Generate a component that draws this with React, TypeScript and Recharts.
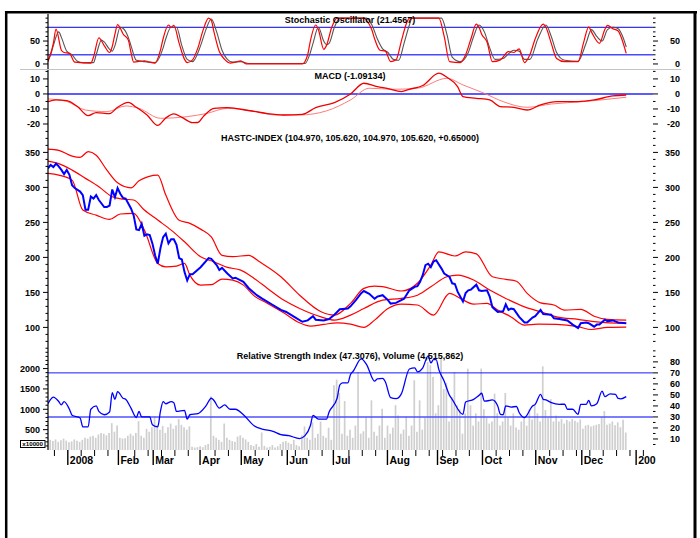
import React from 'react';
import { ComposedChart, Line, Bar, XAxis, YAxis, ReferenceLine } from 'recharts';

type Pair = [number, number];

const FONT = '"Liberation Sans", Arial, Helvetica, sans-serif';
const LAST_DAY = 216;
const X_MAX = 226;

// [trading day, value]
const stochK: Pair[] = [
  [0, 5], [2, 45], [3, 76], [5, 30], [6, 25], [8, 23], [10, 4], [16, 2], [17, 15], [19, 57], [21, 40], [23, 25],
  [24, 38], [25, 65], [26, 86], [27, 78], [28, 66], [30, 52], [31, 25], [32, 4], [36, 7], [38, 4], [40, 2], [42, 30],
  [43, 55], [45, 85], [46, 80], [47, 84], [49, 45], [51, 10], [52, 3], [54, 9], [56, 35], [58, 75], [60, 100], [61, 95],
  [62, 70], [64, 27], [66, 10], [68, 2], [70, 4], [72, 7], [74, 0], [95, 0], [97, 20], [98, 50], [100, 85], [101, 75],
  [103, 32], [104, 40], [106, 80], [108, 100], [118, 100], [119, 95], [121, 74], [122, 55], [124, 30], [126, 28],
  [128, 5], [130, 9], [132, 50], [134, 90], [135, 100], [146, 100], [148, 60], [150, 5], [154, 3], [156, 20], [158, 55],
  [160, 87], [161, 80], [162, 65], [164, 48], [166, 5], [169, 9], [172, 27], [174, 25], [176, 33], [178, 3], [180, 20],
  [182, 55], [185, 87], [186, 80], [188, 45], [190, 12], [193, 5], [198, 5], [200, 45], [202, 81], [203, 70], [206, 45],
  [208, 75], [209, 84], [211, 77], [213, 72], [214, 60], [216, 23],
];

const stochD: Pair[] = [
  [0, 8], [1, 20], [2, 40], [4, 70], [5, 58], [7, 28], [9, 20], [11, 6], [13, 3], [17, 3], [18, 20], [20, 52], [21, 48],
  [23, 32], [24, 28], [25, 40], [27, 80], [28, 78], [30, 58], [31, 40], [33, 8], [36, 5], [40, 3], [43, 35], [44, 55],
  [46, 80], [48, 80], [50, 40], [52, 10], [54, 5], [57, 40], [59, 75], [61, 98], [63, 70], [65, 30], [67, 10], [69, 4],
  [72, 5], [75, 1], [96, 1], [98, 25], [99, 45], [101, 80], [103, 50], [104, 42], [105, 45], [107, 80], [109, 100],
  [119, 100], [121, 85], [123, 55], [125, 33], [127, 25], [129, 10], [131, 8], [133, 45], [135, 85], [136, 100],
  [147, 100], [149, 65], [151, 15], [154, 5], [157, 25], [159, 60], [161, 85], [163, 70], [165, 35], [167, 10],
  [170, 12], [172, 22], [174, 30], [176, 28], [178, 10], [180, 10], [183, 55], [186, 85], [188, 60], [190, 25],
  [193, 8], [198, 6], [201, 45], [203, 75], [205, 60], [207, 50], [209, 75], [211, 80], [213, 77], [215, 55], [216, 37],
];

const macdLine: Pair[] = [
  [0, -5.1], [3, -4], [7, -4.4], [11, -8.4], [15, -14.4], [18, -12.4], [23, -13.1], [26, -8.9], [30, -5.6], [33, -8.9],
  [37, -14], [41, -20.9], [44, -16], [47, -13.3], [50, -15.6], [54, -19.1], [56, -19], [58, -15.1], [62, -9.6],
  [67, -9.1], [72, -10.2], [77, -11.6], [82, -13.1], [88, -14], [95, -13.6], [100, -9.1], [107, -5.8], [113, 0],
  [118, 7.1], [123, 4.9], [127, 3.6], [132, 1.6], [135, 3.1], [140, 5.6], [146, 13.8], [149, 11.1], [153, 4.9],
  [155, -1.8], [160, -2.9], [165, -4], [169, -8.4], [174, -8.9], [179, -10.7], [184, -7.3], [190, -5.1], [198, -5.1],
  [204, -4], [211, -1.3], [216, -0.7],
];

const macdSignal: Pair[] = [
  [0, -3.3], [7, -5], [14, -10.7], [22, -11.8], [29, -8], [34, -9.6], [42, -16.2], [52, -15.1], [59, -13.1], [67, -9.6],
  [77, -11.6], [85, -14], [94, -14], [104, -11.3], [113, -4], [120, 3.8], [129, 3.1], [138, 3.8], [149, 10.4], [155, 6],
  [163, 0.4], [170, -5.1], [179, -8.9], [188, -6.7], [200, -5.1], [216, -2.2],
];

const hastcClose: Pair[] = [
  [0, 327], [1, 332], [2, 329], [3, 334], [4, 330], [5, 325], [6, 319], [7, 325], [8, 318], [9, 303], [10, 299],
  [12, 294], [13, 289], [14, 268], [15, 268], [16, 287], [17, 284], [18, 289], [19, 282], [21, 272], [22, 272],
  [23, 274], [24, 297], [25, 286], [26, 299], [27, 291], [28, 285], [29, 284], [31, 270], [32, 260], [33, 240],
  [34, 239], [35, 248], [36, 231], [37, 233], [38, 232], [39, 220], [40, 203], [41, 191], [42, 213], [43, 229],
  [44, 234], [45, 220], [46, 226], [47, 226], [48, 218], [49, 199], [50, 197], [51, 179], [52, 167], [53, 176],
  [54, 176], [57, 186], [60, 199], [61, 198], [63, 189], [64, 182], [65, 185], [67, 177], [69, 170], [70, 171],
  [73, 165], [75, 156], [78, 146], [80, 141], [84, 132], [87, 125], [89, 122], [92, 115], [95, 108], [97, 110],
  [99, 116], [100, 111], [103, 110], [105, 112], [107, 118], [109, 126], [112, 127], [113, 130], [115, 139],
  [117, 149], [118, 152], [120, 148], [122, 141], [123, 144], [125, 146], [127, 139], [128, 134], [130, 135],
  [133, 141], [135, 153], [137, 158], [138, 159], [139, 165], [140, 175], [141, 189], [142, 191], [143, 186],
  [144, 194], [145, 196], [147, 184], [148, 177], [150, 172], [151, 163], [152, 162], [153, 151], [155, 137],
  [156, 149], [157, 153], [158, 154], [160, 161], [161, 153], [162, 152], [164, 153], [165, 144], [166, 129],
  [168, 122], [170, 123], [171, 133], [172, 125], [173, 127], [174, 126], [176, 115], [178, 107], [179, 107],
  [181, 114], [182, 116], [184, 125], [185, 119], [188, 118], [189, 113], [191, 112], [194, 110], [196, 104],
  [198, 99], [199, 106], [201, 107], [202, 106], [204, 101], [205, 104], [206, 104], [208, 111], [209, 109],
  [211, 110], [213, 107], [216, 106],
];

const bbUpper: Pair[] = [
  [0, 354.6], [4, 353], [9, 344.7], [12, 343], [15, 351], [18, 346], [22, 324.7], [26, 306.6], [31, 299.4],
  [34, 309.4], [41, 317.6], [44, 289], [49, 253], [53, 248.6], [57, 240.4], [61, 229.4], [65, 203], [69, 201],
  [75, 203], [79, 193.7], [87, 172.3], [94, 146], [102, 122.3], [107, 117.6], [113, 134.3], [118, 155.7], [122, 159],
  [125, 158.3], [132, 152], [138, 163], [143, 189], [146, 208], [152, 202], [156, 208], [160, 205], [166, 172.3],
  [171, 168.6], [175, 166], [179, 148.6], [184, 135], [189, 132], [193, 124.7], [199, 125.7], [204, 116],
  [209, 111.4], [216, 110.4],
];

const bbMiddle: Pair[] = [
  [0, 337.6], [4, 334], [9, 324.7], [14, 312.9], [19, 300.9], [24, 286.6], [28, 283.3], [32, 282], [36, 267.6],
  [41, 253.3], [46, 239], [51, 222.3], [57, 201], [62, 193.7], [67, 185.7], [72, 181.9], [77, 170], [82, 155.7],
  [88, 139], [94, 127], [102, 115], [107, 110.4], [113, 117.6], [118, 127], [125, 139], [132, 141.4], [138, 146],
  [143, 158], [149, 172.3], [153, 174.7], [159, 167.6], [165, 153.3], [171, 141.4], [178, 129.4], [184, 122.3],
  [190, 115], [198, 111.4], [205, 108], [216, 105.7],
];

const bbLower: Pair[] = [
  [0, 320], [4, 317.6], [9, 310.4], [13, 267.6], [18, 260.4], [23, 254.3], [27, 262], [32, 262.9], [36, 239],
  [41, 191.4], [44, 186.6], [48, 187.6], [51, 191.4], [53, 174.7], [57, 160.4], [61, 161], [65, 169], [69, 167.6],
  [73, 160.4], [77, 145], [82, 134.3], [88, 121], [94, 106.6], [98, 101.9], [103, 104.3], [108, 106.6], [113, 104.7],
  [118, 100], [122, 110.4], [127, 127], [132, 133.3], [138, 132], [144, 117.6], [150, 148.6], [154, 141.4],
  [159, 133.3], [164, 134.3], [168, 124.7], [173, 115], [178, 103.3], [183, 104.7], [190, 104.3], [198, 101],
  [203, 97], [209, 100], [216, 100.4],
];

const rsi14: Pair[] = [
  [0, 42], [1, 46], [2, 48], [4, 44], [5, 41], [6, 44], [8, 37], [9, 31.5], [12, 29], [13, 21], [15, 21], [16, 37],
  [18, 40], [19, 35], [21, 32], [23, 34.5], [24, 52], [25, 46], [26, 53], [28, 47], [29, 46], [31, 38], [33, 29.5],
  [34, 35], [35, 30], [38, 30], [39, 23], [41, 21], [42, 35], [43, 44], [44, 42], [46, 44], [47, 43], [48, 35],
  [51, 36], [52, 28], [53, 32], [56, 33], [59, 40], [61, 47], [62, 45], [64, 38], [66, 41], [68, 37], [70, 37],
  [73, 32], [77, 22], [80, 19], [84, 17], [87, 14], [90, 13], [94, 10.4], [96, 13], [98, 22], [99, 31.5], [101, 28],
  [104, 28], [105, 34.5], [108, 47], [109, 59], [110, 61], [112, 61], [113, 68.6], [114, 71.5], [117, 82.7],
  [119, 77.6], [122, 62.5], [123, 64.5], [125, 65], [126, 62], [128, 47.5], [130, 46.6], [132, 51], [135, 73.5],
  [137, 74.6], [138, 71], [140, 74.6], [142, 85.5], [143, 79], [144, 82], [145, 82], [146, 73], [148, 62.5],
  [150, 49.6], [151, 46], [155, 32.4], [156, 43.5], [159, 46], [161, 49.6], [162, 51.5], [163, 44.4], [165, 45],
  [166, 45.5], [168, 40], [169, 32.4], [170, 32], [171, 40], [173, 39], [175, 39.5], [176, 34], [178, 29.4],
  [181, 40], [182, 41.4], [184, 50.5], [185, 46], [186, 45.5], [188, 43], [191, 41.4], [193, 41.7], [194, 37],
  [196, 37], [198, 32.4], [199, 41.4], [201, 41.4], [202, 45], [203, 40], [205, 42], [207, 53.5], [208, 48.5],
  [210, 51], [212, 50.5], [213, 46.8], [214, 46.5], [216, 48.4],
];

// volume (x10000), one bar per trading day 0..216
const volume: number[] = [
  300, 250, 220, 260, 200, 240, 280, 230, 190, 210, 260, 230, 200,
  250, 300, 280, 330, 350, 300, 380, 420, 400, 360, 420,
  660, 450, 600,
  300, 280, 290, 350, 400, 350, 420, 710, 350, 300, 520, 450, 560, 826,
  620, 500, 590, 420, 560, 650, 520, 600, 760, 620, 560, 500, 580, 80, 60, 70,
  90, 70, 120, 150,
  1318,
  350, 300, 250, 200, 650, 300, 250, 220, 200, 330, 360, 300, 260, 200,
  120, 100, 150, 80, 430, 100, 60, 80, 120, 60, 90, 150, 200, 220, 180, 150, 250, 120, 90, 360, 580, 300, 250,
  680, 300, 400, 700, 350, 300, 548, 250, 1590, 1728, 1400, 400,
  1203, 350, 500, 300, 600, 1916, 400, 460, 800, 300,
  1220, 450, 350, 600, 1015, 300, 600, 400, 550, 1100,
  850, 400, 500, 820, 350, 600, 1711, 450, 1220, 500,
  800, 2161, 2080, 1793, 900, 1100, 2245, 1500, 1650, 700,
  1300, 1916, 1100, 1000, 400, 900, 2000, 1100, 600, 900,
  700, 2000, 1000, 800, 650, 700, 1384, 900, 600, 700,
  1400, 800, 600, 900, 550, 500, 700, 800, 600, 1000,
  750, 1138, 900, 700, 2055, 980, 800, 1250, 700, 850,
  700, 760, 650, 740, 700, 760, 720, 680, 750, 523,
  600, 617, 580, 600, 620, 640, 809, 956, 620, 650,
  700, 610, 680, 560, 745, 430,
];

const monthTicks = [7.4, 26.3, 39.3, 56.8, 72.2, 89.4, 106.6, 126.8, 145.5, 162.3, 182.2, 199.4, 219.7];
const monthLabels = ['2008', 'Feb', 'Mar', 'Apr', 'May', 'Jun', 'Jul', 'Aug', 'Sep', 'Oct', 'Nov', 'Dec', '2009'];

const weekTicks: number[] = [];
for (let d = 2.4; d <= X_MAX; d += 5) {
  if (monthTicks.every((m) => Math.abs(m - d) > 1.5)) weekTicks.push(Math.round(d * 10) / 10);
}
const xTicks = [...monthTicks, ...weekTicks].sort((a, b) => a - b);

function steps(from: number, to: number, step: number) {
  const out: number[] = [];
  for (let v = from; v <= to + 1e-9; v += step) out.push(Math.round(v * 100) / 100);
  return out;
}

function buildRows(series: Record<string, Pair[]>, daily?: Record<string, number[]>) {
  const rows: any[] = [];
  for (let d = 0; d <= LAST_DAY; d++) rows.push({ day: d });
  Object.entries(series).forEach(([key, pts]) => pts.forEach(([d, v]) => { rows[d][key] = v; }));
  if (daily) Object.entries(daily).forEach(([key, vals]) => vals.forEach((v, d) => { rows[d][key] = v; }));
  return rows;
}

const stochRows = buildRows({ k: stochK, d: stochD });
const macdRows = buildRows({ macd: macdLine, signal: macdSignal });
const priceRows = buildRows({ close: hastcClose, upper: bbUpper, middle: bbMiddle, lower: bbLower });
const rsiRows = buildRows({ rsi: rsi14 }, { vol: volume });

const AX_TEXT: React.CSSProperties = { fontFamily: FONT, fontSize: 9, fontWeight: 700, fill: '#000' };
const TITLE_TEXT: React.CSSProperties = { fontFamily: FONT, fontSize: 9, fontWeight: 700, fill: '#000' };

function yTick(side: 'left' | 'right', majors: number[]) {
  return (props: any) => {
    const { x, y, payload } = props;
    const v = payload.value;
    const major = majors.includes(v);
    const len = major ? 5 : 2.5;
    const dir = side === 'left' ? -1 : 1;
    return (
      <g>
        <line x1={x} x2={x + dir * len} y1={y} y2={y} stroke="#000" strokeWidth={1} />
        {major && (
          <text x={side === 'left' ? x - 8 : 680} y={y + 3.3} textAnchor="end" style={AX_TEXT}>
            {v}
          </text>
        )}
      </g>
    );
  };
}

function XTick(props: any) {
  const { x, y, payload } = props;
  const idx = monthTicks.indexOf(payload.value);
  if (idx < 0) return <line x1={x} x2={x} y1={y} y2={y + 6} stroke="#000" strokeWidth={1} />;
  return (
    <g>
      <line x1={x} x2={x} y1={y} y2={y + 15} stroke="#000" strokeWidth={1.4} />
      {/* the last label is cut at the plot edge, as in the original */}
      <svg x={x} y={y} width={Math.max(1, 656 - x)} height={20} overflow="hidden">
        <text x={2} y={13.5} style={{ fontFamily: FONT, fontSize: 10.5, fontWeight: 700, fill: '#000' }}>
          {monthLabels[idx]}
        </text>
      </svg>
    </g>
  );
}

const M0 = { top: 0, right: 0, bottom: 0, left: 0 };

export default function App() {
  const hiddenX = <XAxis type="number" dataKey="day" domain={[0, X_MAX]} allowDataOverflow hide />;
  const leftAxis = (id: string, domain: [number, number], ticks: number[], majors: number[]) => (
    <YAxis
      yAxisId={id}
      orientation="left"
      width={48}
      domain={domain}
      allowDataOverflow
      ticks={ticks}
      interval={0}
      tickSize={0}
      tickMargin={0}
      tickLine={false}
      axisLine={{ stroke: '#000', strokeWidth: 1.2 }}
      tick={yTick('left', majors)}
    />
  );
  const rightAxis = (id: string, domain: [number, number], ticks: number[], majors: number[]) => (
    <YAxis
      yAxisId={id}
      orientation="right"
      width={47}
      domain={domain}
      allowDataOverflow
      ticks={ticks}
      interval={0}
      tickSize={0}
      tickMargin={0}
      tickLine={false}
      axisLine={false}
      tick={yTick('right', majors)}
    />
  );

  const stochDomain: [number, number] = [-11, 109];
  const stochTicks = steps(0, 100, 10);
  const macdDomain: [number, number] = [-24, 16.6];
  const macdTicks = steps(-20, 15, 5);
  const priceDomain: [number, number] = [72, 382];
  const priceTicks = steps(80, 380, 10);
  const volDomain: [number, number] = [0, 2530];
  const volTicks = steps(100, 2500, 100);
  const rsiDomain: [number, number] = [0, 93.5];
  const rsiTicks = steps(5, 90, 5);

  return (
    <div style={{ position: 'absolute', left: 0, top: 0, width: 700, height: 538, background: '#fff', overflow: 'hidden' }}>
      <div style={{ position: 'absolute', left: 0, top: 14 }}>
        <ComposedChart width={700} height={55} data={stochRows} margin={M0}>
          {hiddenX}
          {leftAxis('L', stochDomain, stochTicks, [0, 50])}
          {rightAxis('R', stochDomain, stochTicks, [0, 50])}
          <ReferenceLine yAxisId="L" y={80} stroke="#0000ee" strokeWidth={1} />
          <ReferenceLine yAxisId="L" y={20} stroke="#4a4aff" strokeWidth={1.5} />
          <Line yAxisId="L" dataKey="d" type="monotone" stroke="#555" strokeWidth={1.1} dot={false} connectNulls isAnimationActive={false} />
          <Line yAxisId="L" dataKey="k" type="monotone" stroke="#ff0000" strokeWidth={1.2} dot={false} connectNulls isAnimationActive={false} />
        </ComposedChart>
      </div>

      <div style={{ position: 'absolute', left: 0, top: 69 }}>
        <ComposedChart width={700} height={61} data={macdRows} margin={M0}>
          {hiddenX}
          {leftAxis('L', macdDomain, macdTicks, [10, 0, -10, -20])}
          {rightAxis('R', macdDomain, macdTicks, [10, 0, -10, -20])}
          <ReferenceLine yAxisId="L" y={0} stroke="#5b5bff" strokeWidth={2} />
          <Line yAxisId="L" dataKey="signal" type="monotone" stroke="#ff7a7a" strokeWidth={1} dot={false} connectNulls isAnimationActive={false} />
          <Line yAxisId="L" dataKey="macd" type="monotone" stroke="#ee0000" strokeWidth={1.3} dot={false} connectNulls isAnimationActive={false} />
        </ComposedChart>
      </div>

      <div style={{ position: 'absolute', left: 0, top: 130 }}>
        <ComposedChart width={700} height={217} data={priceRows} margin={M0}>
          {hiddenX}
          {leftAxis('L', priceDomain, priceTicks, [100, 150, 200, 250, 300, 350])}
          {rightAxis('R', priceDomain, priceTicks, [100, 150, 200, 250, 300, 350])}
          <Line yAxisId="L" dataKey="upper" type="monotone" stroke="#ff0000" strokeWidth={1.2} dot={false} connectNulls isAnimationActive={false} />
          <Line yAxisId="L" dataKey="middle" type="monotone" stroke="#ff0000" strokeWidth={1.2} dot={false} connectNulls isAnimationActive={false} />
          <Line yAxisId="L" dataKey="lower" type="monotone" stroke="#ff0000" strokeWidth={1.2} dot={false} connectNulls isAnimationActive={false} />
          <Line yAxisId="L" dataKey="close" type="linear" stroke="#0000ff" strokeWidth={2} dot={false} connectNulls isAnimationActive={false} />
        </ComposedChart>
      </div>

      <div style={{ position: 'absolute', left: 0, top: 347 }}>
        <ComposedChart width={700} height={125} data={rsiRows} margin={M0}>
          <XAxis
            type="number"
            dataKey="day"
            domain={[0, X_MAX]}
            allowDataOverflow
            ticks={xTicks}
            interval={0}
            height={22}
            tickSize={0}
            tickMargin={0}
            tickLine={false}
            axisLine={false}
            tick={XTick}
          />
          {leftAxis('V', volDomain, volTicks, [500, 1000, 1500, 2000])}
          {rightAxis('R', rsiDomain, rsiTicks, [10, 20, 30, 40, 50, 60, 70, 80])}
          <Bar yAxisId="V" dataKey="vol" fill="#cfcfcf" barSize={1.7} isAnimationActive={false} />
          <ReferenceLine yAxisId="R" y={70} stroke="#1a1aff" strokeWidth={1} />
          <ReferenceLine yAxisId="R" y={30} stroke="#5050ff" strokeWidth={1.5} />
          <Line yAxisId="R" dataKey="rsi" type="monotone" stroke="#0000ff" strokeWidth={1.3} dot={false} connectNulls isAnimationActive={false} />
        </ComposedChart>
      </div>

      <svg width={700} height={538} style={{ position: 'absolute', left: 0, top: 0, pointerEvents: 'none' }}>
        <line x1={6.2} x2={6.2} y1={11} y2={538} stroke="#000" strokeWidth={2.5} />
        <line x1={5} x2={697} y1={12.2} y2={12.2} stroke="#000" strokeWidth={2.5} />
        <line x1={695} x2={695} y1={11} y2={538} stroke="#000" strokeWidth={3} />
        <line x1={20} x2={681} y1={69.5} y2={69.5} stroke="#c4c4c4" strokeWidth={1} />
        <text x={350} y={22.5} textAnchor="middle" style={TITLE_TEXT}>Stochastic Oscillator (21.4567)</text>
        <text x={350} y={79} textAnchor="middle" style={TITLE_TEXT}>MACD (-1.09134)</text>
        <text x={350} y={140.5} textAnchor="middle" style={TITLE_TEXT}>
          HASTC-INDEX (104.970, 105.620, 104.970, 105.620, +0.65000)
        </text>
        <text x={350} y={359} textAnchor="middle" style={TITLE_TEXT}>
          Relative Strength Index (47.3076), Volume (4,515,862)
        </text>
        <rect x={20.5} y={440.5} width={24.5} height={7} fill="#fff" stroke="#000" strokeWidth={1} />
        <text x={32.7} y={446.3} textAnchor="middle" style={{ fontFamily: FONT, fontSize: 6.2, fontWeight: 700, fill: '#000' }}>
          x10000
        </text>
      </svg>
    </div>
  );
}
